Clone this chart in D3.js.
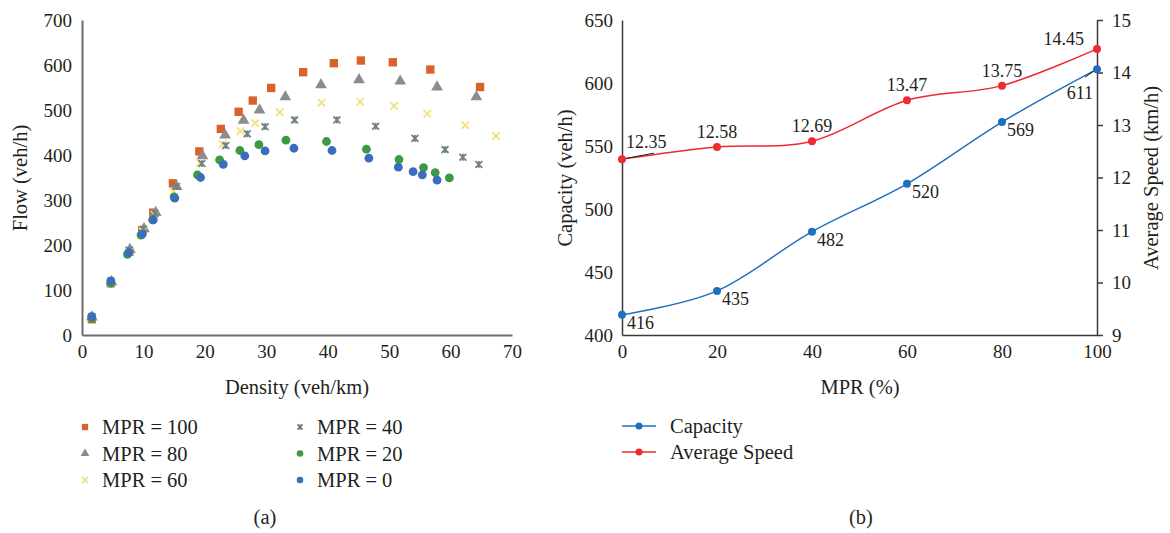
<!DOCTYPE html>
<html>
<head>
<meta charset="utf-8">
<script src="https://cdn.jsdelivr.net/npm/d3@7"></script>
<style>
  body { margin: 0; background: #fff; }
  svg text { font-family: "Liberation Serif", "DejaVu Serif", serif; fill: #231f20; }
</style>
</head>
<body>
<div id="chart"></div>
<script>
// (a) flow vs density, one pair of arrays per MPR level
const density100 = [1.6, 4.7, 7.7, 9.8, 11.6, 14.8, 19.1, 22.6, 25.5, 27.8, 30.8, 36.0, 41.0, 45.4, 50.6, 56.7, 64.8];
const flow100    = [35, 115, 185, 233, 272, 337, 408, 458, 496, 521, 549, 584, 604, 610, 606, 590, 551];
const density80  = [1.6, 4.8, 7.8, 10.1, 12.0, 15.4, 19.6, 23.3, 26.3, 28.9, 33.1, 38.9, 45.1, 51.8, 57.8, 64.2];
const flow80     = [40, 118, 190, 236, 272, 330, 398, 444, 477, 500, 529, 556, 567, 564, 551, 529];
const density60  = [1.5, 4.7, 7.6, 9.9, 11.8, 14.9, 19.2, 22.9, 25.8, 28.2, 32.2, 39.0, 45.3, 50.8, 56.2, 62.4, 67.4];
const flow60     = [38, 117, 186, 231, 268, 318, 383, 424, 453, 471, 495, 516, 518, 509, 492, 466, 442];
const density40  = [1.6, 4.7, 7.7, 10.0, 11.9, 15.4, 19.5, 23.4, 26.9, 29.8, 34.6, 41.5, 47.8, 54.2, 59.1, 62.0, 64.6];
const flow40     = [41, 120, 189, 235, 270, 330, 381, 421, 447, 463, 478, 478, 464, 437, 412, 395, 379];
const density20  = [1.6, 4.7, 7.4, 9.6, 11.5, 15.0, 18.8, 22.4, 25.7, 28.8, 33.2, 39.8, 46.3, 51.6, 55.6, 57.5, 59.8];
const flow20     = [37, 115, 179, 222, 256, 307, 356, 389, 410, 423, 433, 430, 413, 390, 372, 361, 349];
const density0   = [1.6, 4.7, 7.6, 9.8, 11.6, 15.1, 19.3, 23.0, 26.5, 29.8, 34.5, 40.7, 46.7, 51.5, 53.9, 55.4, 57.8];
const flow0      = [41, 120, 183, 224, 256, 304, 350, 379, 398, 409, 415, 410, 393, 373, 363, 356, 344];

// (b) capacity and speed vs MPR
const mpr      = [0, 20, 40, 60, 80, 100];
const capacity = [416, 435, 482, 520, 569, 611];
const speed    = [12.35, 12.58, 12.69, 13.47, 13.75, 14.45];

const flowTicks    = [0, 100, 200, 300, 400, 500, 600, 700];
const densityTicks = [0, 10, 20, 30, 40, 50, 60, 70];
const capTicks     = [400, 450, 500, 550, 600, 650];
const speedTicks   = [9, 10, 11, 12, 13, 14, 15];
const mprTicks     = [0, 20, 40, 60, 80, 100];

const series = [
  { name: "MPR = 100", x: density100, y: flow100, shape: "square",   color: "#d8622a" },
  { name: "MPR = 80",  x: density80,  y: flow80,  shape: "triangle", color: "#8c8c8e" },
  { name: "MPR = 60",  x: density60,  y: flow60,  shape: "x",        color: "#f3e27c" },
  { name: "MPR = 40",  x: density40,  y: flow40,  shape: "star",     color: "#6f8088" },
  { name: "MPR = 20",  x: density20,  y: flow20,  shape: "circle",   color: "#3b9a43" },
  { name: "MPR = 0",   x: density0,   y: flow0,   shape: "circle",   color: "#3b6dbf" }
];

const tickFont = "19px", titleFont = "20.5px", labelFont = "18px";

const svg = d3.select("#chart").append("svg")
  .attr("width", 1170)
  .attr("height", 533);

svg.append("rect").attr("width", 1170).attr("height", 533).attr("fill", "#fff");

function drawMarker(g, shape, color, s) {
  if (shape === "square") {
    g.append("path").attr("d", d3.symbol(d3.symbolSquare, 70 * s * s)()).attr("fill", color);
  } else if (shape === "triangle") {
    g.append("path").attr("d", d3.symbol(d3.symbolTriangle, 60 * s * s)()).attr("fill", color);
  } else if (shape === "circle") {
    g.append("circle").attr("r", 4.4 * s).attr("fill", color);
  } else if (shape === "x") {
    const r = 3.7 * s;
    g.append("path").attr("d", `M${-r},${-r}L${r},${r}M${-r},${r}L${r},${-r}`)
      .attr("stroke", color).attr("stroke-width", 1.8);
  } else if (shape === "star") {
    const r = 3.4 * s;
    g.append("path").attr("d", `M${-r},${-r}L${r},${r}M${-r},${r}L${r},${-r}M0,${-r}L0,${r}`)
      .attr("stroke", color).attr("stroke-width", 1.8);
  }
}

// ---------- (a) ----------
const xA = d3.scaleLinear().domain([0, 70]).range([82, 512]);
const yA = d3.scaleLinear().domain([0, 700]).range([335, 20]);

const axA = svg.append("g");
axA.append("g")
  .attr("transform", "translate(82,0)")
  .call(d3.axisLeft(yA).tickValues(flowTicks).tickSize(0).tickPadding(10));
axA.append("g")
  .attr("transform", "translate(0,335)")
  .call(d3.axisBottom(xA).tickValues(densityTicks).tickSize(0).tickPadding(10));
axA.selectAll(".domain").attr("stroke", "#6d6d6d").attr("stroke-width", 2);
axA.selectAll(".tick text").style("font-size", tickFont).attr("fill", "#231f20");

svg.append("text")
  .attr("transform", "translate(27,178) rotate(-90)")
  .attr("text-anchor", "middle")
  .style("font-size", titleFont)
  .text("Flow (veh/h)");
svg.append("text")
  .attr("x", 297).attr("y", 394)
  .attr("text-anchor", "middle")
  .style("font-size", titleFont)
  .text("Density (veh/km)");

series.forEach(s => {
  const g = svg.append("g");
  s.x.forEach((d, i) => {
    const m = g.append("g").attr("transform", `translate(${xA(d)},${yA(s.y[i])})`);
    drawMarker(m, s.shape, s.color, 1);
  });
});

// legend (a)
series.forEach((s, i) => {
  const col = Math.floor(i / 3), row = i % 3;
  const lx = col === 0 ? 85 : 300;
  const ly = 427 + row * 26.5;
  const m = svg.append("g").attr("transform", `translate(${lx},${ly})`);
  drawMarker(m, s.shape, s.color, 0.75);
  svg.append("text")
    .attr("x", lx + 17).attr("y", ly + 7)
    .style("font-size", titleFont)
    .text(s.name);
});

svg.append("text").attr("x", 265).attr("y", 524)
  .attr("text-anchor", "middle").style("font-size", titleFont).text("(a)");

// ---------- (b) ----------
const xB = d3.scaleLinear().domain([0, 100]).range([622, 1097]);
const yCap = d3.scaleLinear().domain([400, 650]).range([335, 20]);
const ySpd = d3.scaleLinear().domain([9, 15]).range([335, 20]);

const axB = svg.append("g");
axB.append("g")
  .attr("transform", "translate(622,0)")
  .call(d3.axisLeft(yCap).tickValues(capTicks).tickSize(0).tickPadding(9));
axB.append("g")
  .attr("transform", "translate(1097,0)")
  .call(d3.axisRight(ySpd).tickValues(speedTicks).tickFormat(d3.format("d"))
    .tickSize(6).tickSizeOuter(0).tickPadding(9));
axB.append("g")
  .attr("transform", "translate(0,335)")
  .call(d3.axisBottom(xB).tickValues(mprTicks).tickSize(0).tickPadding(10));
axB.selectAll(".domain").attr("stroke", "#3a3a3a").attr("stroke-width", 1.5);
axB.selectAll(".tick line").attr("stroke", "#3a3a3a").attr("stroke-width", 1.5);
axB.selectAll(".tick text").style("font-size", tickFont).attr("fill", "#231f20");

svg.append("text")
  .attr("transform", "translate(572,178) rotate(-90)")
  .attr("text-anchor", "middle")
  .style("font-size", titleFont)
  .text("Capacity (veh/h)");
svg.append("text")
  .attr("transform", "translate(1158,178) rotate(-90)")
  .attr("text-anchor", "middle")
  .style("font-size", titleFont)
  .text("Average Speed (km/h)");
svg.append("text")
  .attr("x", 860).attr("y", 394)
  .attr("text-anchor", "middle")
  .style("font-size", titleFont)
  .text("MPR (%)");

const capColor = "#1f6fc1", spdColor = "#ee2a2e";
const curve = d3.curveCardinal.tension(0);

svg.append("path")
  .datum(mpr.map((m, i) => [xB(m), yCap(capacity[i])]))
  .attr("d", d3.line().curve(curve))
  .attr("fill", "none").attr("stroke", capColor).attr("stroke-width", 1.5);
svg.append("path")
  .datum(mpr.map((m, i) => [xB(m), ySpd(speed[i])]))
  .attr("d", d3.line().curve(curve))
  .attr("fill", "none").attr("stroke", spdColor).attr("stroke-width", 1.5);

// leader lines for the two crowded labels
svg.append("line").attr("x1", xB(0)).attr("y1", ySpd(speed[0]))
  .attr("x2", xB(0) + 32).attr("y2", ySpd(speed[0]) - 6)
  .attr("stroke", "#222").attr("stroke-width", 1);
svg.append("line").attr("x1", xB(100)).attr("y1", yCap(capacity[5]))
  .attr("x2", xB(100) - 12).attr("y2", yCap(capacity[5]) + 8)
  .attr("stroke", "#222").attr("stroke-width", 1);

mpr.forEach((m, i) => {
  svg.append("circle").attr("cx", xB(m)).attr("cy", yCap(capacity[i])).attr("r", 4).attr("fill", capColor);
  svg.append("circle").attr("cx", xB(m)).attr("cy", ySpd(speed[i])).attr("r", 4).attr("fill", spdColor);
});

// capacity labels: below right, last one below left
mpr.forEach((m, i) => {
  const last = i === mpr.length - 1;
  svg.append("text")
    .attr("x", last ? xB(m) - 4 : xB(m) + 5)
    .attr("y", yCap(capacity[i]) + (last ? 30 : 14))
    .attr("text-anchor", last ? "end" : "start")
    .style("font-size", labelFont)
    .text(capacity[i]);
});

// speed labels: above, first one up-right, last one up-left
mpr.forEach((m, i) => {
  let x = xB(m), anchor = "middle", dy = -9;
  if (i === 0) { x = xB(m) + 4; anchor = "start"; dy = -11; }
  if (i === mpr.length - 1) { x = xB(m) - 13; anchor = "end"; dy = -4; }
  svg.append("text")
    .attr("x", x).attr("y", ySpd(speed[i]) + dy)
    .attr("text-anchor", anchor)
    .style("font-size", labelFont)
    .text(speed[i].toFixed(2));
});

// legend (b)
const legB = [
  { name: "Capacity", color: capColor },
  { name: "Average Speed", color: spdColor }
];
legB.forEach((d, i) => {
  const ly = 426 + i * 26;
  svg.append("line").attr("x1", 622).attr("x2", 656).attr("y1", ly).attr("y2", ly)
    .attr("stroke", d.color).attr("stroke-width", 1.5);
  svg.append("circle").attr("cx", 639).attr("cy", ly).attr("r", 3.5).attr("fill", d.color);
  svg.append("text").attr("x", 670).attr("y", ly + 7)
    .style("font-size", titleFont).text(d.name);
});

svg.append("text").attr("x", 861).attr("y", 524)
  .attr("text-anchor", "middle").style("font-size", titleFont).text("(b)");
</script>
</body>
</html>
